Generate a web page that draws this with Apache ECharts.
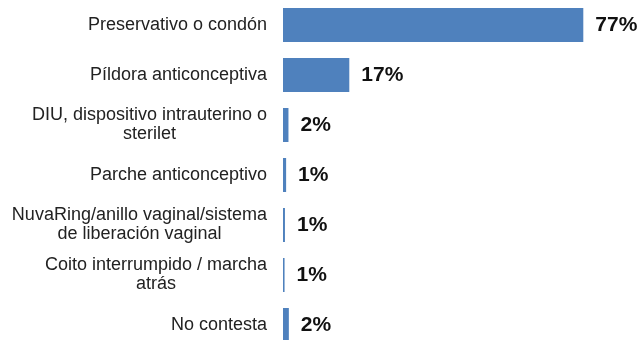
<!DOCTYPE html>
<html>
<head>
<meta charset="utf-8">
<script src="https://cdn.jsdelivr.net/npm/echarts@6/dist/echarts.min.js"></script>
<style>html,body{margin:0;padding:0;background:#fff}#c{width:639px;height:340px}</style>
</head>
<body>
<div id="c"></div>
<script>
const categories = [
  'Preservativo o condón',
  'Píldora anticonceptiva',
  'DIU, dispositivo intrauterino o\nsterilet',
  'Parche anticonceptivo',
  'NuvaRing/anillo vaginal/sistema\nde liberación vaginal',
  'Coito interrumpido / marcha\natrás',
  'No contesta'
];
const values = [77, 17, 1.4, 0.8, 0.5, 0.4, 1.5];
const valueLabels = ['77%', '17%', '2%', '1%', '1%', '1%', '2%'];

const chart = echarts.init(document.getElementById('c'), null, {renderer: 'canvas'});
chart.setOption({
  animation: false,
  backgroundColor: '#ffffff',
  grid: {left: 283, top: 0, width: 390, height: 350, containLabel: false, outerBoundsMode: 'none'},
  xAxis: {type: 'value', min: 0, max: 100, show: false},
  yAxis: {
    type: 'category',
    inverse: true,
    data: categories,
    axisLine: {show: false},
    axisTick: {show: false},
    splitLine: {show: false},
    axisLabel: {
      margin: 16,
      align: 'right',
      fontFamily: 'Liberation Sans, Arial, sans-serif',
      fontSize: 18,
      color: '#222',
      formatter: function (v) {
        return v.split('\n').map(function (l) { return '{c|' + l + '}'; }).join('\n');
      },
      rich: {
        c: {align: 'center', fontFamily: 'Liberation Sans, Arial, sans-serif', fontSize: 18, color: '#222', lineHeight: 19}
      }
    }
  },
  series: [{
    type: 'bar',
    data: values,
    barWidth: 34,
    itemStyle: {color: '#4F81BD'},
    label: {
      show: true,
      position: 'right',
      distance: 12,
      fontFamily: 'Liberation Sans, Arial, sans-serif',
      fontWeight: 'bold',
      fontSize: 21,
      color: '#111',
      formatter: function (p) { return valueLabels[p.dataIndex]; }
    }
  }]
});
</script>
</body>
</html>
